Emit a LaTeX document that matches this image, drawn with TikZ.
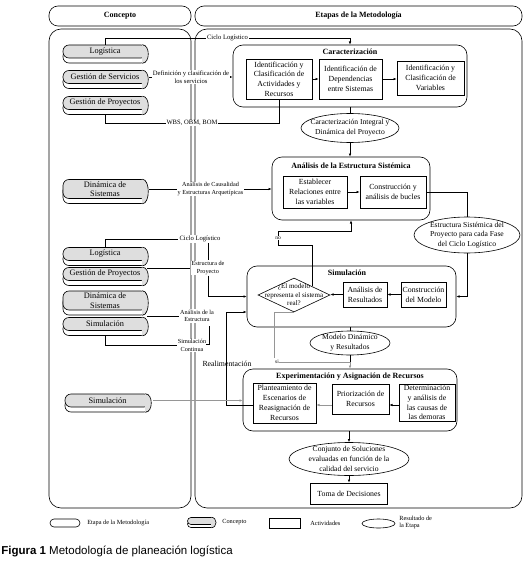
\documentclass[tikz,border=0pt]{standalone}
\usepackage{fontspec}
\setmainfont{Liberation Serif}
\newfontfamily\captfont{Liberation Sans}
\usetikzlibrary{arrows.meta, shapes.geometric, shadows, calc}
\definecolor{cgray}{RGB}{222,222,222}
\definecolor{lgr}  {RGB}{150,150,150}

\tikzset{
  panel/.style={draw, rounded corners=12pt},
  cabecera/.style={draw, rounded corners=9pt, minimum height=20pt,
                   font=\fontsize{8}{10}\selectfont\bfseries},
  concepto/.style={draw, fill=cgray, rounded corners=6pt, align=center,
                   inner sep=1pt, font=\fontsize{8.3}{9.6}\selectfont,
                   copy shadow={shadow xshift=0pt, shadow yshift=-#1,
                                fill=white, draw}},
  concepto/.default=5pt,
  etapa/.style={draw, rounded corners=10pt},
  titulo/.style={inner sep=0pt, font=\fontsize{8}{9}\selectfont\bfseries},
  activ/.style={draw, align=center, inner sep=1pt,
                font=\fontsize{7.8}{9.8}\selectfont},
  result/.style={draw, ellipse, inner sep=0pt},
  rtext/.style={align=center, inner sep=0pt,
                font=\fontsize{7.6}{9.8}\selectfont},
  etq/.style={fill=white, align=center, inner sep=0.8pt,
              font=\fontsize{6.6}{7.8}\selectfont},
  etqs/.style={etq, font=\fontsize{6.2}{7.6}\selectfont},
  leyenda/.style={align=left, inner sep=0pt, anchor=west,
                  font=\fontsize{6.3}{7.4}\selectfont},
  flecha/.style={-{Latex[length=3.2pt,width=2.6pt]}},
}

\begin{document}
\begin{tikzpicture}[x=1pt, y=-1pt, line width=0.6pt]
  \useasboundingbox (0,0) rectangle (528,575);

  % columnas
  \node[panel, minimum width=142, minimum height=479] (pConc) at (120,268.5) {};
  \node[panel, minimum width=327, minimum height=479] (pEtap) at (358.5,268.5) {};
  \node[cabecera, minimum width=142] (hConc) at (120,16) {Concepto};
  \node[cabecera, minimum width=327] (hEtap) at (358.5,16) {Etapas de la Metodología};

  % etapas
  \node[etapa, minimum width=234, minimum height=62] (gCar) at (350,76) {};
  \node[titulo] (tCar) at (350,52) {Caracterización};
  \node[etapa, minimum width=158, minimum height=63] (gAna) at (351,188.5) {};
  \node[titulo] (tAna) at (351,166) {Análisis de la Estructura Sistémica};
  \node[etapa, minimum width=209, minimum height=61] (gSim) at (351.5,296.5) {};
  \node[titulo] (tSim) at (347,273) {Simulación};
  \node[etapa, minimum width=214, minimum height=62] (gExp) at (350,400) {};
  \node[titulo] (tExp) at (350,377) {Experimentación y Asignación de Recursos};

  % actividades
  \node[activ, minimum width=66, minimum height=40] (act) at (279,79)
    {Identificación y\\Clasificación de\\Actividades y\\Recursos};
  \node[activ, minimum width=63, minimum height=40] (dep) at (350.5,79)
    {Identificación de\\Dependencias\\entre Sistemas};
  \node[activ, minimum width=67, minimum height=34] (var) at (430.5,78)
    {Identificación y\\Clasificación de\\Variables};
  \node[activ, minimum width=64, minimum height=32] (rel) at (315,192)
    {Establecer\\Relaciones entre\\las variables};
  \node[activ, minimum width=66, minimum height=32] (buc) at (393,192)
    {Construcción y\\análisis de bucles};
  \node[activ, minimum width=44, minimum height=25] (res) at (365,294.5)
    {Análisis de\\Resultados};
  \node[activ, minimum width=45, minimum height=25] (mod) at (423.5,294.5)
    {Construcción\\del Modelo};
  \node[activ, minimum width=63, minimum height=40] (pla) at (284.5,403)
    {Planteamiento de\\Escenarios de\\Reasignación de\\Recursos};
  \node[activ, minimum width=57, minimum height=30] (pri) at (360.5,399)
    {Priorización de\\Recursos};
  \node[activ, minimum width=56, minimum height=37] (det) at (427,402.5)
    {Determinación\\y análisis de\\las causas de\\las demoras};
  \node[activ, minimum width=77, minimum height=21] (toma) at (349,493.5)
    {Toma de Decisiones};

  % resultados
  \node[result, minimum width=98, minimum height=29] (eCar) at (350,128) {};
  \node[rtext] (eCarT) at (eCar) {Caracterización Integral y\\Dinámica del Proyecto};
  \node[result, minimum width=106, minimum height=36] (eEst) at (467,235) {};
  \node[rtext] (eEstT) at (eEst)
    {Estructura Sistémica del\\Proyecto para cada Fase\\del Ciclo Logístico};
  \node[result, minimum width=80, minimum height=24] (eMod) at (350,343) {};
  \node[rtext] (eModT) at (eMod) {Modelo Dinámico\\y Resultados};
  \node[result, minimum width=120, minimum height=33] (eSol) at (349,459) {};
  \node[rtext] (eSolT) at (eSol)
    {Conjunto de Soluciones\\evaluadas en función de la\\calidad del servicio};

  \node[draw, diamond, minimum width=72, minimum height=34, inner sep=0pt] (dia) at (294,295) {};
  \node[align=center, inner sep=0pt, font=\fontsize{7}{8.4}\selectfont] (diaT) at (dia)
    {¿El modelo\\representa el sistema\\real?};

  % conceptos
  \node[concepto, minimum width=84, minimum height=13] (log1) at (105,51.5) {Logística};
  \node[concepto, minimum width=84, minimum height=13] (gser) at (105,77) {Gestión de Servicios};
  \node[concepto, minimum width=84, minimum height=13] (gpro1) at (105,103) {Gestión de Proyectos};
  \node[concepto, minimum width=84, minimum height=19] (din1) at (105,189) {Dinámica de\\Sistemas};
  \node[concepto, minimum width=84, minimum height=13] (log2) at (105,254) {Logística};
  \node[concepto, minimum width=84, minimum height=13] (gpro2) at (105,274) {Gestión de Proyectos};
  \node[concepto, minimum width=84, minimum height=19] (din2) at (105,300.5) {Dinámica de\\Sistemas};
  \node[concepto, minimum width=84, minimum height=13] (sim1) at (105,324) {Simulación};
  \node[concepto, minimum width=85, minimum height=13] (sim2) at (107.5,400.5) {Simulación};
  \foreach \n in {log1,gser,gpro1,din1,log2,gpro2,din2,sim1,sim2}
    \draw[fill=cgray] ([xshift=-5pt]\n.north east)
      .. controls ([xshift=3pt]\n.north east) and ([xshift=3pt,yshift=-5pt]\n.south east)
      .. ([xshift=-5pt,yshift=-5pt]\n.south east);

  % Caracterizacion
  \coordinate (cl1) at (350,38);
  \draw[flecha] (log1.north) |- node[etq, pos=0.75] (lcl1) {Ciclo Logístico} (cl1) -- (gCar.north);
  \draw[flecha] ([xshift=2pt]gser.east) -- node[etq] (ldef)
    {Definición y clasificación de\\los servicios} (gser.east -| gCar.west);
  \coordinate (cw) at (279,123);
  \draw ([yshift=-5pt]gpro1.south) |- node[etq, pos=0.75] (lwbs) {WBS, OBM, BOM} (cw) -- (act.south);
  \draw[flecha] (act) -- (dep);
  \draw[flecha] (dep) -- (dep.east -| var.west);
  \draw (gCar.south) -- (eCar.north);
  \draw[flecha] (eCar.south) -- (eCar.south |- gAna.north);

  % Analisis
  \draw[flecha] ([xshift=2pt]din1.east) -- node[etqs] (lcau)
    {Análisis de Causalidad\\y Estructuras Arquetípicas} (din1.east -| gAna.west);
  \draw[flecha] (rel) -- (buc);
  \draw (buc.east) -| (eEst.north);
  \draw[flecha] (eEst.south) |- (gSim.east);

  % Simulacion
  \draw[flecha] (mod) -- (res);
  \draw[flecha] (res.west) -- (res.west -| dia.east);
  \coordinate (dNE) at ($(dia.north)!0.5!(dia.east)$);
  \coordinate (noA) at (278,245);
  \coordinate (noB) at (278,231);
  \draw[flecha] (dNE) |- (noA) -- node[etq, inner sep=0.3pt, font=\fontsize{5.5}{6}\selectfont] (lno) {no}
    (noB) -| (gAna.south);
  \coordinate (siA) at (274,358);
  \node[etq, inner sep=0.3pt, font=\fontsize{5.5}{6}\selectfont] (lsi) at (277,362) {si};
  \draw[lgr] (dia.south) -| (siA);
  \draw (eMod.north |- gSim.south) -- (eMod.north);
  \draw (eMod.south) -- (eMod.south |- lsi.east);
  \draw[lgr, flecha] (lsi.east) -| (gExp.north);

  \node[etq] (lcl2) at (200,239) {Ciclo Logístico};
  \draw (log2.north) |- (lcl2.west);
  \node[etqs] (lep) at (208,268) {Estructura de\\Proyecto};
  \draw (lep.west -| gpro2.east) -- (lep.west);
  \draw (lcl2.south -| lep.north) -- (lep.north);
  \draw[flecha] (lep.south) |- (gSim.west);
  \node[etqs] (lae) at (197,316) {Análisis de la\\Estructura};
  \draw (lae.west -| din2.east) -- (lae.west);
  \node[etqs] (lsc) at (192,345.5) {Simulación\\Continua};
  \draw ([yshift=-5pt]sim1.south) |- (lsc.west);
  \coordinate (brA) at (209,326);
  \coordinate (brB) at (209,344);
  \draw (brA) -- (brB) -- ++(-3,0);

  % Experimentacion
  \coordinate (reA) at (226,312);
  \draw[flecha] ([yshift=-2.5pt]pla.west) -| (reA) -- (reA -| gSim.west);
  \node[inner sep=0pt, font=\fontsize{7.8}{9}\selectfont] (lre) at (227,364) {Realimentación};
  \draw[lgr, flecha] ([xshift=3pt]sim2.east) -- (sim2.east -| gExp.west);
  \draw[flecha] ([yshift=-2.5pt]det.west) -- ([yshift=-2.5pt]det.west -| pri.east);
  \draw[lgr, flecha] ([yshift=-6pt]pri.west) -- ([yshift=-6pt]pri.west -| pla.east);
  \draw[flecha] (eSol.north |- gExp.south) -- (eSol.north);
  \draw[flecha] (eSol.south) -- (toma.north);

  % leyenda
  \node[etapa, rounded corners=4pt, minimum width=30, minimum height=8] (legE) at (65,523) {};
  \node[leyenda] (legEt) at (87,523) {Etapa de la Metodología};
  \node[concepto=3pt, rounded corners=3.5pt, minimum width=27, minimum height=7] (legC) at (201,521) {};
  \draw[fill=cgray] ([xshift=-4pt]legC.north east)
    .. controls ([xshift=3pt]legC.north east) and ([xshift=3pt,yshift=-3pt]legC.south east)
    .. ([xshift=-4pt,yshift=-3pt]legC.south east);
  \node[leyenda] (legCt) at (222,522) {Concepto};
  \node[activ, minimum width=31, minimum height=10] (legA) at (284.5,523) {};
  \node[leyenda] (legAt) at (310,523) {Actividades};
  \node[result, minimum width=33, minimum height=9] (legR) at (378.5,523.5) {};
  \node[leyenda] (legRt) at (399,522.5) {Resultado de\\la Etapa};

  \node[anchor=west, inner sep=0pt, font=\captfont\fontsize{11.5}{13}\selectfont] (capt) at (1,551)
    {\textbf{Figura 1} Metodología de planeación logística};
\end{tikzpicture}
\end{document}
